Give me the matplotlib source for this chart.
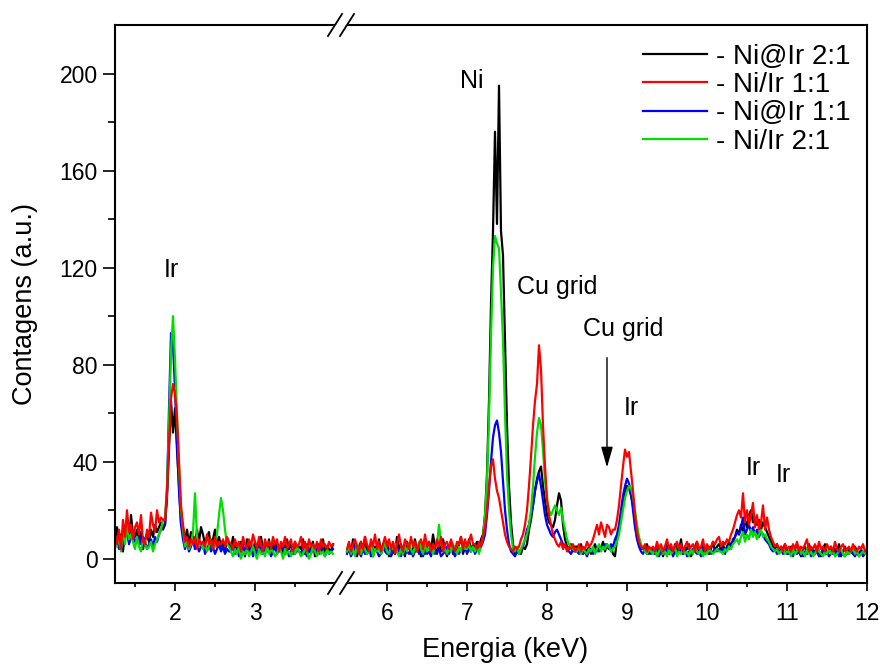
import numpy as np
import matplotlib
matplotlib.use("Agg")
import matplotlib.pyplot as plt
from matplotlib.patches import Polygon

plt.rcParams['font.family'] = ['Liberation Sans', 'DejaVu Sans']

# energy grid (keV), one point every 0.025 keV
e_left = 1.25 + 0.025 * np.arange(110)    # 1.25 .. 3.975
e_right = 5.50 + 0.025 * np.arange(261)   # 5.50 .. 12.00

labels = ['- Ni@Ir 2:1', '- Ni/Ir 1:1', '- Ni@Ir 1:1', '- Ni/Ir 2:1']
colors = ['black', '#ff0000', '#0000ff', '#00dd00']

# counts, left part (1.25 - 4 keV)
niir21_left = [8,13,5,10,3,12,14,7,18,10, 9,12,6,11,4,8,10,7,12,9, 14,11,13,15,12,
               14,25,45,65,52,62,45,30,15,
               13,8,12,6,11,9,5,12,7,13, 10,6,9,11,4,8,12,6,9,5, 7,3,8,6,
               4,9,3,6,2,7,5,1,8,4, 6,3,7,2,5,9,4,6,3,8, 2,5,7,4,3,6,1,5,8,4,
               6,2,7,3,5,4,8,2,6,3, 5,7,1,4,6,3,8,2,5,4, 3,6]
nir11_left = [10,6,12,4,16,9,20,11,14,8, 13,15,10,18,7,6,12,9,19,14, 11,20,15,17,16,
              16,28,48,66,72,68,58,40,22,
              14,7,9,5,8,6,9,4,8,6, 7,5,10,6,8,4,9,5,7,6, 8,5,9,7,
              6,4,8,5,7,3,9,6,4,8, 5,10,7,4,9,6,3,8,5,7, 4,9,6,8,3,7,5,9,4,6,
              8,3,7,5,6,9,4,7,3,8, 5,6,4,7,3,8,5,6,4,7, 5,6]
niir11_left = [6,9,4,8,5,10,12,6,9,11, 7,8,10,6,9,7,4,6,8,5, 9,7,10,12,14,
               14,28,62,93,88,70,48,28,14,
               8,4,7,3,5,8,4,6,3,5, 7,2,4,6,3,5,2,4,6,3, 5,2,4,3,
               3,5,2,4,1,3,6,2,4,3, 5,1,4,2,6,3,2,5,3,4, 1,3,5,2,4,3,6,2,4,1,
               3,5,2,4,3,2,5,3,1,4, 2,5,3,4,2,6,3,1,4,2, 3,4]
nir21_left = [7,5,9,3,12,6,14,8,10,7, 4,9,5,3,8,6,4,5,7,3, 6,8,10,12,16,
              16,30,55,85,100,82,60,38,20,
              12,5,7,4,6,11,27,9,5,7, 4,6,3,5,8,4,5,10,18,25, 20,12,6,5,
              3,1,4,2,5,0,3,2,4,1, 3,5,2,0,4,2,3,1,5,2, 4,3,1,2,5,3,0,4,2,3,
              1,4,2,5,3,1,2,4,3,0, 2,5,3,1,4,2,3,1,4,2, 3,2]

# right part (5.5 - 12 keV)
niir21_right = [3,6,2,8,4,1,5,7,3,9, 2,4,6,1,5,3,8,2,6,4, 7,1,3,5,2,9,4,6,3,1,
                7,5,2,4,8,3,6,1,5,2, 4,7,3,10,5,2,6,3,8,4, 1,5,7,2,4,3,6,9,2,5, 4,8,3,6,
                5,7,4,8,10,18,35,65,105,135, 176,138,195,135,125,90,55,30,15,6, 2,4,3,2,5,4,6,
                12,16,22,28,33,36,38,30,24,18, 15,14,13,16,22,27,24,14,8,5, 4,6,3,5,
                5,3,6,2,4,3,5,2,4,6, 3,5,4,7,3,6,4,5,2,1, 8,12,18,24,28,30,29,26,22,15, 9,6,4,5,3,6,2,4,
                4,2,6,3,5,1,4,7,3,5, 2,6,4,3,8,2,5,4,6,1, 3,5,7,2,4,6,3,5,2,4, 7,3,5,6,
                4,6,3,5,7,5,8,9,12,10, 14,11,16,13,18,20,15,17,14,16, 12,15,13,11,9,7,5,4,6,3, 5,4,6,3,
                3,5,2,4,6,3,1,4,5,2, 6,3,4,2,5,3,1,4,6,2, 3,5,2,4,3,6,1,3,5,2, 4,3,2,5,3,1,4,2,3,2]
nir11_right = [4,7,3,6,8,5,2,7,4,9, 6,3,8,5,10,4,7,3,6,9, 5,8,4,7,2,6,10,5,3,8,
               6,4,9,5,7,3,6,8,4,10, 5,7,3,6,4,8,5,9,3,6, 7,4,8,5,3,7,6,9,4,8, 5,7,10,6,
               6,4,7,5,9,13,20,30,38,41, 33,28,25,20,15,10,7,5,4,3, 5,4,5,8,10,14,20,
               30,42,55,65,72,88,78,55,38,25, 18,14,10,8,6,5,7,4,6,3, 5,4,6,3,
               4,6,3,5,4,7,5,6,8,11, 14,10,15,12,9,14,13,10,12,12, 16,22,30,38,45,42,44,36,28,18, 11,7,5,4,6,3,5,4,
               5,3,7,4,6,3,5,8,4,6, 3,5,7,4,6,3,5,7,4,5, 6,3,7,4,5,8,3,6,4,5, 7,6,8,9,
               5,7,6,8,7,10,12,15,18,20, 17,27,15,20,14,18,23,13,18,12, 15,22,12,17,12,9,7,5,6,4, 5,3,6,4,
               5,3,6,4,7,3,5,4,6,8, 3,5,4,6,3,7,4,5,3,6, 4,5,3,7,4,3,5,6,3,4, 5,3,6,4,3,5,4,6,3,4]
niir11_right = [2,4,1,3,5,2,3,1,4,2, 3,5,1,2,4,3,1,2,5,3, 2,4,1,3,2,5,3,1,4,2,
                3,2,4,1,3,5,2,3,1,4, 2,3,1,5,2,3,4,1,2,3, 5,2,4,3,1,3,2,4,3,5, 2,4,3,5,
                2,4,3,5,7,10,18,28,40,50, 55,57,52,44,32,20,12,6,3,2, 1,3,2,4,5,8,12,
                14,18,22,28,32,35,30,24,18,14, 12,10,9,11,12,10,8,6,5,4, 3,2,4,3,
                3,2,4,2,3,1,3,4,2,3, 4,3,5,4,6,5,4,6,5,8, 10,14,20,26,30,33,31,27,20,13, 8,5,3,2,4,2,3,2,
                3,2,4,1,3,2,5,3,2,4, 1,3,2,4,3,2,5,1,3,2, 4,3,2,3,1,4,2,3,5,2, 3,4,3,4,
                3,4,2,5,4,6,7,9,11,10, 13,17,10,12,14,11,13,10,12,9, 11,10,8,7,6,4,3,4,2,3, 4,2,3,2,
                2,3,1,4,2,3,2,1,3,2, 4,1,3,2,3,1,2,4,2,3, 1,2,3,2,4,1,3,2,1,3, 2,4,2,1,3,2,3,1,2,3]
nir21_right = [3,5,2,4,1,6,3,2,5,4, 2,3,6,1,4,3,5,2,4,7, 3,2,5,4,6,3,1,4,2,5,
               3,6,4,2,5,3,7,4,2,6, 3,5,4,2,5,6,14,7,3,4, 2,5,3,6,4,2,5,3,7,4, 4,6,3,5,
               3,5,2,6,9,18,32,58,92,120, 133,130,128,110,90,60,35,20,10,4, 3,5,2,4,6,8,10,
               14,20,30,42,52,58,55,45,32,24, 20,18,20,22,20,18,21,16,12,8, 6,5,4,3,
               3,5,2,4,3,2,4,3,5,2, 4,6,3,5,4,6,5,3,4,5, 7,10,15,20,25,28,30,29,26,20, 14,9,6,4,3,2,4,3,
               2,4,1,3,5,2,3,1,4,2, 3,5,1,3,2,4,2,3,1,4, 2,5,3,2,4,1,3,2,4,3, 2,3,4,3,
               3,2,4,3,5,4,6,7,8,6, 9,11,7,10,8,12,9,11,8,10, 12,9,10,8,7,5,4,3,4,2, 3,4,2,3,
               3,1,4,2,3,5,2,3,1,4, 2,3,1,2,4,3,2,1,3,2, 4,2,3,1,2,3,4,2,1,3, 2,3,4,2,3,1,2,3,2,3]

x_major = [2, 3, 6, 7, 8, 9, 10, 11, 12]
x_minor = [1.5, 2.5, 3.5, 6.5, 7.5, 8.5, 9.5, 10.5, 11.5]
y_major = [0, 40, 80, 120, 160, 200]
y_minor = [20, 60, 100, 140, 180]

GAP = 1.35      # keV cut out of the axis between 4.05 and 5.4
BREAK = 4.075   # position of the // marks (axis units)


def cut(e):
    e = np.asarray(e, dtype=float)
    return np.where(e > 4.5, e - GAP, e)


fig = plt.figure(figsize=(8.8, 6.68), dpi=100)
ax = fig.add_axes([115 / 880, 1 - 583 / 668, 752 / 880, 558 / 668])

lefts = [niir21_left, nir11_left, niir11_left, nir21_left]
rights = [niir21_right, nir11_right, niir11_right, nir21_right]
lines = []
for left, right, c in zip(lefts, rights, colors):
    x = np.concatenate([cut(e_left), [np.nan], cut(e_right)])
    y = np.concatenate([left, [np.nan], right])
    lines.append(ax.plot(x, y, color=c, lw=1.6)[0])
# red on top, like the original
lines[1].set_zorder(2.4)

ax.set_xlim(1.25, 12 - GAP)
ax.set_ylim(-10, 220)
ax.set_xticks(cut(x_major))
ax.set_xticklabels([str(v) for v in x_major])
ax.set_xticks(cut(x_minor), minor=True)
ax.set_yticks(y_major)
ax.set_yticks(y_minor, minor=True)
ax.tick_params(axis='both', which='both', direction='out', width=1.2,
               labelsize=16.5, top=False, right=False)
ax.tick_params(axis='x', which='major', length=6, pad=8)
ax.tick_params(axis='x', which='minor', length=3)
ax.tick_params(axis='y', which='major', length=8.5, pad=4)
ax.tick_params(axis='y', which='minor', length=5)
for s in ax.spines.values():
    s.set_linewidth(1.5)

ax.set_xlabel('Energia (keV)', fontsize=19.5)
ax.xaxis.set_label_coords((505 - 115) / 752, -0.097)
ax.set_ylabel('Contagens (a.u.)', fontsize=19.5)
ax.yaxis.set_label_coords(-0.102, 0.5)

# axis break marks on bottom and top spines
xa = (BREAK - 1.25) / (12 - GAP - 1.25)
dx, dy, off = 7 / 752, 11 / 558, 6 / 752
for ya in (0, 1):
    gap = Polygon([(xa - off - dx, ya - 0.006), (xa + off - dx, ya - 0.006),
                   (xa + off + dx, ya + 0.006), (xa - off + dx, ya + 0.006)],
                  closed=True, transform=ax.transAxes, facecolor='white',
                  edgecolor='none', clip_on=False, zorder=5)
    ax.add_patch(gap)
    for sgn in (-1, 1):
        ax.plot([xa + sgn * off - dx, xa + sgn * off + dx], [ya - dy, ya + dy],
                transform=ax.transAxes, color='black', lw=1.3,
                clip_on=False, zorder=6)

# peak labels
fs = 18
ax.text(1.96, 119, 'Ir', fontsize=fs, ha='center', va='center')
ax.text(5.71, 197, 'Ni', fontsize=fs, ha='center', va='center')
ax.text(6.775, 112, 'Cu grid', fontsize=fs, ha='center', va='center')
ax.text(7.6, 94.5, 'Cu grid', fontsize=fs, ha='center', va='center')
ax.text(7.71, 62, 'Ir', fontsize=fs, ha='center', va='center')
ax.text(9.225, 37.5, 'Ir', fontsize=fs, ha='center', va='center')
ax.text(9.61, 34.5, 'Ir', fontsize=fs, ha='center', va='center')
ax.annotate('', xy=(cut(8.75), 36.5), xytext=(cut(8.75), 84),
            arrowprops=dict(arrowstyle='-|>,head_width=0.2,head_length=0.7',
                            color='black', lw=1, mutation_scale=18))

ax.legend(lines, labels, loc='upper left', frameon=False, fontsize=20,
          bbox_to_anchor=(643 / 880, 1 - 44 / 668), bbox_transform=fig.transFigure,
          borderpad=0, borderaxespad=0, handlelength=2.3, handletextpad=0.32,
          labelspacing=0.08)

fig.savefig('out.png', dpi=100)
